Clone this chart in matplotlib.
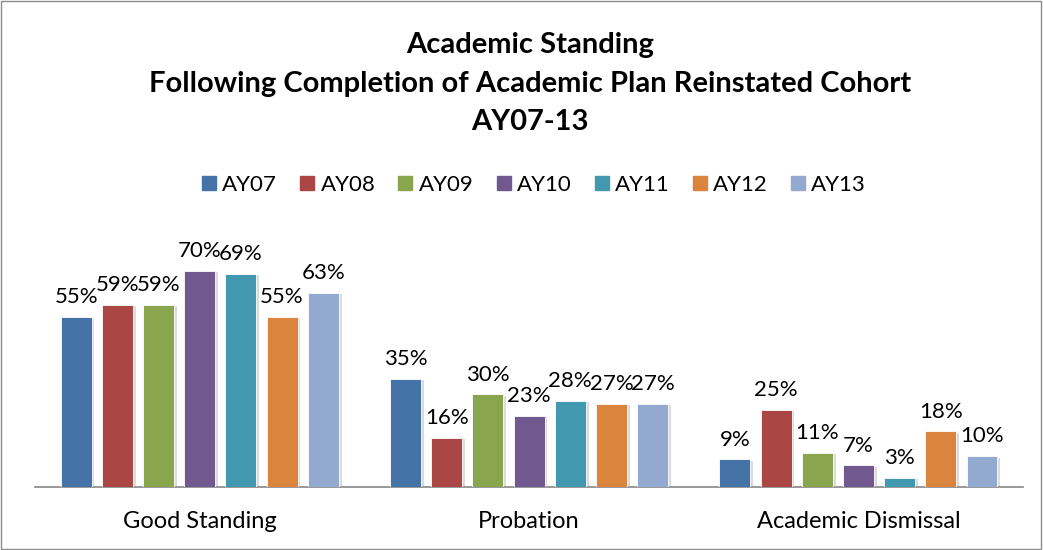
import numpy as np
import matplotlib
matplotlib.use('Agg')
from matplotlib import pyplot as plt
from matplotlib import patheffects as pe
from matplotlib.lines import Line2D

plt.rcParams['font.family'] = ['Lato', 'DejaVu Sans']

categories = ['Good Standing', 'Probation', 'Academic Dismissal']
years = ['AY07', 'AY08', 'AY09', 'AY10', 'AY11', 'AY12', 'AY13']
values = {
    'AY07': [55, 35, 9],
    'AY08': [59, 16, 25],
    'AY09': [59, 30, 11],
    'AY10': [70, 23, 7],
    'AY11': [69, 28, 3],
    'AY12': [55, 27, 18],
    'AY13': [63, 27, 10],
}
colors = ['#4572A7', '#AA4643', '#89A54E', '#71588F', '#4198AF', '#DB843D', '#93A9CF']

fig = plt.figure(figsize=(10.43, 5.5), dpi=100)
ax = fig.add_axes([0.0336, 0.1145, 0.9474, 0.4491])

x = np.arange(len(categories))
pitch = 0.125
width = 0.094
shadow = [pe.SimplePatchShadow(offset=(2, -1), shadow_rgbFace='#999999', alpha=0.35), pe.Normal()]

for i, yr in enumerate(years):
    pos = x + (i - 3) * pitch
    bars = ax.bar(pos, values[yr], width, color=colors[i], edgecolor='white', linewidth=0.6, zorder=3)
    for b in bars:
        b.set_path_effects(shadow)
    for p, v in zip(pos, values[yr]):
        ax.annotate(f'{v}%', (p, v), xytext=(0, 7), textcoords='offset points',
                    ha='center', va='bottom', fontsize=16, color='black')

ax.set_xlim(-0.5, 2.5)
ax.set_ylim(0, 80)
ax.set_xticks(x)
ax.set_xticklabels(categories, fontsize=17)
ax.tick_params(axis='x', length=0, pad=17)
ax.set_yticks([])
for s in ['top', 'right', 'left']:
    ax.spines[s].set_visible(False)
ax.spines['bottom'].set_color('#868686')
ax.spines['bottom'].set_linewidth(1.2)

title_lines = ['Academic Standing', 'Following Completion of Academic Plan Reinstated Cohort', 'AY07-13']
for t, yy in zip(title_lines, [0.918, 0.847, 0.778]):
    fig.text(0.508, yy, t, ha='center', va='center', fontsize=21, fontweight='bold')

handles = [Line2D([], [], marker='s', linestyle='none', markersize=10, markerfacecolor=c, markeredgecolor=c) for c in colors]
fig.legend(handles, years, loc='center', bbox_to_anchor=(0.51, 0.664), ncol=7, frameon=False,
           fontsize=16, handletextpad=0.1, columnspacing=0.85, handlelength=1.0)

# figure border
fig.patches.append(plt.Rectangle((0.001, 0.001), 0.997, 0.997, transform=fig.transFigure,
                                 fill=False, edgecolor='#8c8c8c', linewidth=1))

fig.savefig('out.png', dpi=100)
